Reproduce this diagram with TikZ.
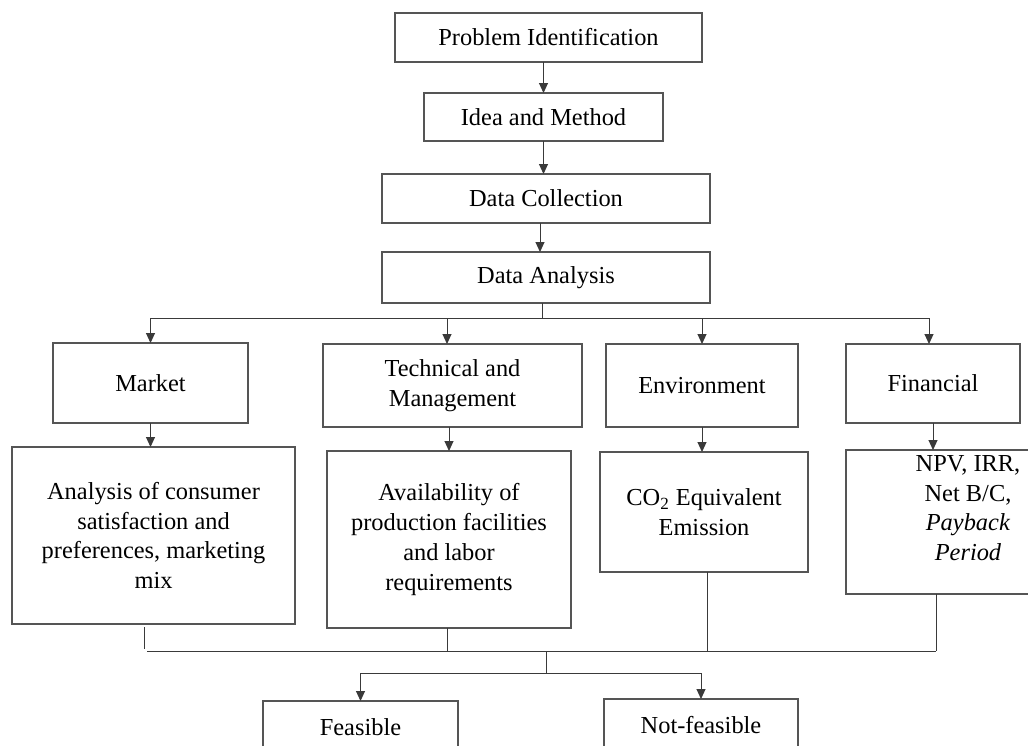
\documentclass[tikz,border=0pt]{standalone}
\usepackage{fontspec}
\setmainfont{Liberation Serif}
\usetikzlibrary{arrows.meta}
\definecolor{boxc}{HTML}{555555}
\definecolor{linec}{HTML}{3a3a3a}
\tikzset{
  box/.style={draw=boxc, line width=0.55pt, inner sep=0pt, outer sep=0pt, align=center,
    font=\fontsize{12.2}{14.85}\selectfont},
  conn/.style={draw=linec, line width=0.5pt},
  arr/.style={conn, -{Triangle[length=5pt,width=4.5pt]}},
}
\begin{document}
\begin{tikzpicture}[x=0.5pt,y=-0.5pt]
\useasboundingbox (0,0) rectangle (1028,745);
\begin{scope}
\clip (0,0) rectangle (1028,745);
\fill[white] (0,0) rectangle (1028,745);

\node[box, minimum width=153.5pt, minimum height=24.5pt] (pi) at (548.5,37.5) {Problem Identification};
\node[box, minimum width=119.5pt, minimum height=24pt] (im) at (543.5,117) {Idea and Method};
\node[box, minimum width=164pt, minimum height=24.5pt] (dc) at (546,198.5) {Data Collection};
\node[box, minimum width=164pt, minimum height=25.5pt] (da) at (546,277.5) {Data Analysis};

\node[box, minimum width=97.5pt, minimum height=40pt] (mk) at (150.5,383) {Market};
\node[box, minimum width=129.5pt, minimum height=41.5pt] (tm) at (452.5,385.5) {Technical and\\Management};
\node[box, minimum width=96pt, minimum height=41.5pt] (en) at (702,385.5) {Environment};
\node[box, minimum width=87pt, minimum height=39.5pt] (fi) at (933,383.5) {Financial};

\node[box, minimum width=141.5pt, minimum height=88.5pt] (an) at (153.5,535.5) {Analysis of consumer\\satisfaction and\\preferences, marketing\\mix};
\node[box, minimum width=122pt, minimum height=88.5pt] (av) at (449,539.5) {Availability of\\production facilities\\and labor\\requirements};
\node[box, minimum width=104pt, minimum height=60pt] (co) at (704,512) {CO\textsubscript{2} Equivalent\\Emission};
\node[box, minimum width=122pt, minimum height=72pt] (npv) at (968,522) {};
\node[box, draw=none] (npvt) at ([yshift=7pt]npv.center) {NPV, IRR,\\Net B/C,\\\textit{Payback}\\\textit{Period}};

\node[box, minimum width=97.5pt, minimum height=26pt] (fe) at (360.5,727) {Feasible};
\node[box, minimum width=97pt, minimum height=26pt] (nf) at (701,725) {Not-feasible};

\coordinate (bus1) at (546,318);
\coordinate (bus2) at (546,651);
\coordinate (bus3) at (546,673);

% top chain
\draw[arr] (pi.south -| im.north) -- (im.north);
\draw[arr] (im.south) -- (im.south |- dc.north);
\coordinate (dcb) at ([xshift=-3pt]dc.south);
\draw[arr] (dcb) -- (dcb |- da.north);
\coordinate (dab) at ([xshift=-2pt]da.south);
\draw[conn] (dab) -- (dab |- bus1);

% first bus
\coordinate (tmt) at ([xshift=-2.75pt]tm.north);
\coordinate (fit) at ([xshift=-2pt]fi.north);
\draw[conn] (mk.north |- bus1) -- (fit |- bus1);
\draw[arr] (mk.north |- bus1) -- (mk.north);
\draw[arr] (tmt |- bus1) -- (tmt);
\draw[arr] (en.north |- bus1) -- (en.north);
\draw[arr] (fit |- bus1) -- (fit);

% second row arrows
\draw[arr] (mk.south) -- (mk.south |- an.north);
\draw[arr] (av.north |- tm.south) -- (av.north);
\draw[arr] (en.south) -- (en.south |- co.north);
\draw[arr] (fi.south) -- (fi.south |- npv.north);

% bottom collection bus
\coordinate (anb) at ([xshift=-4.75pt,yshift=-1.5pt]an.south);
\coordinate (anbe) at ([yshift=1pt]anb |- bus2);
\draw[conn] (anb) -- (anbe);
\coordinate (busL) at ([xshift=-3.25pt]an.south |- bus2);
\coordinate (npvb) at ([xshift=-16pt]npv.south);
\draw[conn] (busL) -- (npvb |- bus2);
\draw[conn] (npvb) -- (npvb |- bus2);
\coordinate (avb) at ([xshift=-1pt]av.south);
\draw[conn] (avb) -- (avb |- bus2);
\coordinate (cob) at ([xshift=1.5pt]co.south);
\draw[conn] (cob) -- (cob |- bus2);

% final split
\draw[conn] (bus2) -- (bus3);
\draw[conn] (fe.north |- bus3) -- (nf.north |- bus3);
\draw[arr] (fe.north |- bus3) -- (fe.north);
\draw[arr] (nf.north |- bus3) -- (nf.north);
\end{scope}
\end{tikzpicture}
\end{document}
